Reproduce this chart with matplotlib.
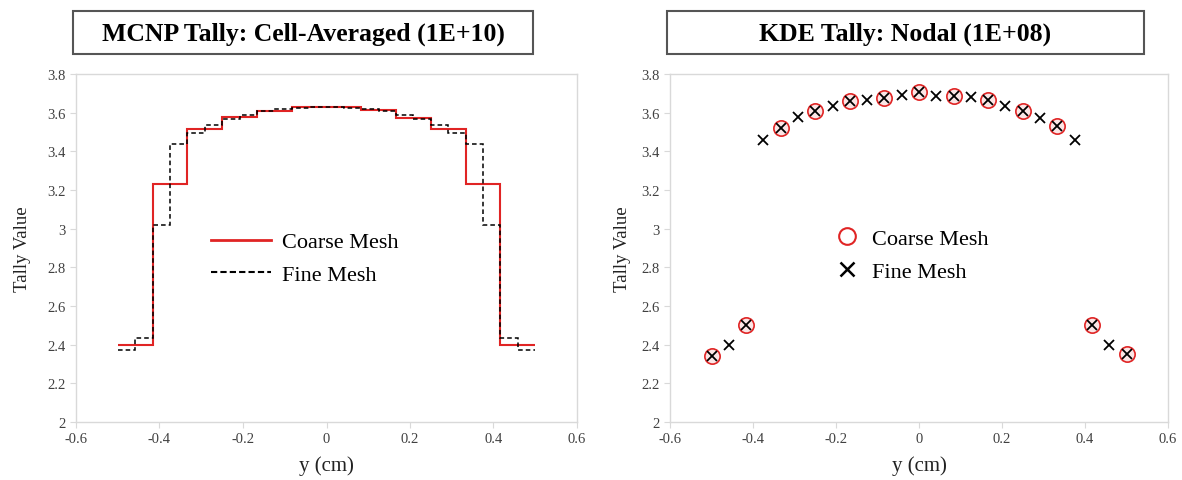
import numpy as np
import matplotlib.pyplot as plt
from matplotlib.patches import Rectangle
from matplotlib.lines import Line2D

plt.rcParams['font.family'] = ['Liberation Serif', 'DejaVu Serif']

# cell-averaged tallies (MCNP), 12 coarse cells and 24 fine cells over -0.5..0.5 cm
coarse_cells = [2.40, 3.23, 3.515, 3.576, 3.61, 3.628,
                3.628, 3.612, 3.575, 3.515, 3.23, 2.40]
fine_cells = [2.37, 2.436, 3.02, 3.438, 3.495, 3.535, 3.566, 3.588, 3.607, 3.618, 3.625, 3.63,
              3.63, 3.625, 3.618, 3.607, 3.588, 3.566, 3.535, 3.495, 3.438, 3.02, 2.436, 2.37]

# nodal KDE tallies
coarse_nodes = [2.34, 2.50, 3.521, 3.607, 3.659, 3.674, 3.705,
                3.685, 3.667, 3.61, 3.533, 2.50, 2.35]
fine_nodes = [2.34, 2.40, 2.50, 3.457, 3.521, 3.576, 3.607, 3.636, 3.659, 3.667, 3.674, 3.69, 3.705,
              3.685, 3.685, 3.683, 3.667, 3.636, 3.61, 3.573, 3.533, 3.46, 2.50, 2.40, 2.35]

coarse_edges = np.linspace(-0.5, 0.5, len(coarse_cells) + 1)
fine_edges = np.linspace(-0.5, 0.5, len(fine_cells) + 1)
coarse_x = np.linspace(-0.5, 0.5, len(coarse_nodes))
fine_x = np.linspace(-0.5, 0.5, len(fine_nodes))

titles = ['MCNP Tally: Cell-Averaged (1E+10)', 'KDE Tally: Nodal (1E+08)']

W, H = 1182, 481
fig = plt.figure(figsize=(W / 100, H / 100), dpi=100)
ax1 = fig.add_axes([76 / W, 58 / H, 501 / W, 348 / H])
ax2 = fig.add_axes([670 / W, 58 / H, 498 / W, 348 / H])

red = '#e02424'
grid_gray = '#d9d9d9'

ax1.stairs(coarse_cells, coarse_edges, baseline=None, color=red, lw=1.5, zorder=3)
ax1.stairs(fine_cells, fine_edges, baseline=None, color='black', lw=1.1, ls=(0, (3, 2)), zorder=4)

ax2.plot(coarse_x, coarse_nodes, 'o', ms=11, mfc='#fbe6e6', mec=red, mew=1.2, ls='none')
ax2.plot(fine_x, fine_nodes, 'x', ms=6.5, color='black', mew=1.3, ls='none')

for ax in (ax1, ax2):
    ax.set_xlim(-0.6, 0.6)
    ax.set_ylim(2, 3.8)
    ax.set_xticks(np.arange(-0.6, 0.61, 0.2))
    ax.set_yticks(np.arange(2, 3.81, 0.2))
    ax.set_xticklabels(['-0.6', '-0.4', '-0.2', '0', '0.2', '0.4', '0.6'])
    ax.set_yticklabels(['2', '2.2', '2.4', '2.6', '2.8', '3', '3.2', '3.4', '3.6', '3.8'])
    for s in ax.spines.values():
        s.set_color(grid_gray)
        s.set_linewidth(1.0)
    ax.tick_params(colors=grid_gray, labelcolor='#404040', labelsize=10.5, length=4, width=0.8)
    ax.set_xlabel('y (cm)', fontsize=15, color='#222222')
    ax.set_ylabel('Tally Value', fontsize=13.5, color='#222222')
    ax.xaxis.set_label_coords(0.5, -0.095)

ax1.yaxis.set_label_coords(-0.09, 0.5)
ax2.yaxis.set_label_coords(-0.078, 0.5)

h1 = [Line2D([], [], color=red, lw=2), Line2D([], [], color='black', lw=1.5, ls=(0, (3, 1.5)))]
ax1.legend(h1, ['Coarse Mesh', 'Fine Mesh'], loc='center left', bbox_to_anchor=(0.23, 0.47),
           frameon=False, fontsize=16, handlelength=2.7, labelspacing=0.55, handletextpad=0.5)
h2 = [Line2D([], [], marker='o', ls='none', ms=12, mfc='none', mec=red, mew=1.5),
      Line2D([], [], marker='x', ls='none', ms=10, color='black', mew=1.8)]
ax2.legend(h2, ['Coarse Mesh', 'Fine Mesh'], loc='center left', bbox_to_anchor=(0.27, 0.48),
           frameon=False, fontsize=16, labelspacing=0.55, handletextpad=0.15)

# boxed panel titles
boxes = [(73, 533), (667, 1144)]
for (x0, x1), t in zip(boxes, titles):
    fig.patches.append(Rectangle((x0 / W, 1 - 55 / H), (x1 - x0) / W, 43 / H,
                                 transform=fig.transFigure, fill=False,
                                 edgecolor='#555555', lw=1.5))
    fig.text((x0 + x1) / 2 / W, 1 - 34 / H, t, ha='center', va='center',
             fontsize=18.5, fontweight='bold')

fig.savefig('out.png', dpi=100)
